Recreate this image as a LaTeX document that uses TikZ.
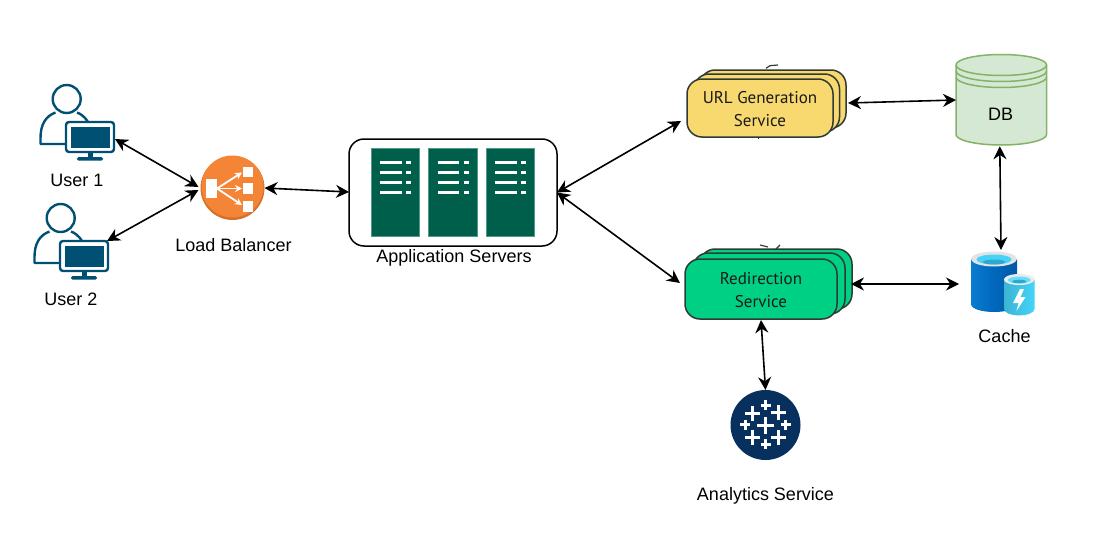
\documentclass[tikz,border=0pt]{standalone}
\usepackage{fontspec}
\setmainfont{Liberation Sans}
\newfontfamily\sketchfont{PT Sans}
\usetikzlibrary{arrows.meta,calc,shapes.geometric}
\definecolor{userblue}{HTML}{005073}
\definecolor{lborange}{HTML}{F58536}
\definecolor{lbdark}{HTML}{D5702A}
\definecolor{srvgreen}{HTML}{005F4B}
\definecolor{srvedge}{HTML}{4F9A88}
\definecolor{urlfill}{HTML}{F7D96F}
\definecolor{redirfill}{HTML}{00D084}
\definecolor{cardline}{HTML}{2F3A36}
\definecolor{dbfill}{HTML}{D5E8D4}
\definecolor{dbline}{HTML}{82B366}
\definecolor{tabblue}{HTML}{07305F}
\definecolor{cacheA}{HTML}{0A7BD0}
\definecolor{cacheB}{HTML}{0058A8}
\definecolor{cacheC}{HTML}{0068BC}
\definecolor{cacheD}{HTML}{45D4F8}
\definecolor{cacheE}{HTML}{2FA8D0}
\tikzset{
  x=1pt,y=-1pt,
  link/.style={line width=1.6pt,black,{Stealth[length=13pt,width=13pt]}-{Stealth[length=13pt,width=13pt]}},
  lbl/.style={font=\fontsize{18}{21}\selectfont,text=black,inner sep=0pt,anchor=center},
  card/.style={draw=cardline,line width=1.5pt,rounded corners=15pt},
  svctext/.style={font=\sketchfont\fontsize{17}{23}\selectfont,align=center,text=black!90,inner sep=0pt},
  hit/.style={rectangle,inner sep=0pt,outer sep=0pt},
  srv/.style={fill=srvgreen,draw=srvedge,line width=.6pt},
  srvline/.style={white,line width=2.2pt},
  usr/.style={draw=userblue,line width=2.4pt,line join=round},
}
\newcommand{\usericon}[2]{%
 \begin{scope}[shift={(#1,#2)}]
  \draw[usr,fill=white] (66.7,99) circle (14);
  \draw[usr] (66,144) -- (40.5,144) -- (40.5,138) .. controls (40.5,124) and (46,116) .. (55.5,112.5);
  \draw[usr] (77,112.5) .. controls (81,114) and (85,117) .. (88,122);
  \draw[usr,fill=white,rounded corners=3pt] (66,122) rectangle (114,152);
  \fill[userblue] (70.5,127) rectangle (109.5,148);
  \fill[userblue] (87.5,152) rectangle (93,157.5);
  \fill[userblue,rounded corners=1.5pt] (77,157) rectangle (103,160.5);
 \end{scope}}
\newcommand{\srvrack}[1]{%
 \begin{scope}[shift={(#1,0)}]
  \draw[srv] (371,148.5) rectangle (419.5,236.5);
  \foreach \yy in {162.5,172.5,182.5,192.5}{
   \draw[srvline] (380,\yy) -- (401.5,\yy);
   \draw[srvline] (406,\yy) -- (411,\yy);}
 \end{scope}}
\newcommand{\tabcross}[3]{%
  \draw[white,line width=3pt] (#1-#3,#2) -- (#1+#3,#2) (#1,#2-#3) -- (#1,#2+#3);}
\newcommand{\dbarc}[1]{%
  \draw[dbline,line width=1.5pt] (956,#1) .. controls (956,#1+5.8) and (976,#1+10.5) .. (1001.3,#1+10.5)
    .. controls (1026.3,#1+10.5) and (1046.6,#1+5.8) .. (1046.6,#1);}
\begin{document}
\begin{tikzpicture}
\useasboundingbox (0,0) rectangle (1102,538);
\fill[white] (0,0) rectangle (1102,538);

% users
\usericon{0}{0}
\usericon{-6}{119}
\node[hit,minimum width=49pt,minimum height=38pt] (user1) at (90.5,139) {};
\node[hit,minimum width=49pt,minimum height=38pt] (user2) at (84.5,258) {};
\node[lbl] (user1lbl) at (77,180) {User 1};
\node[lbl] (user2lbl) at (71,299) {User 2};

% load balancer
\fill[lbdark] (232.5,188) circle (32);
\fill[lborange] (232.5,186.5) circle (31);
\node[circle,minimum size=64pt,inner sep=0pt,outer sep=0pt] (lb) at (232.5,188) {};
\fill[white] (205.5,179) rectangle (217,198);
\fill[white] (243,166.5) rectangle (253,177);
\fill[white] (243,183) rectangle (253,193.5);
\fill[white] (243,201) rectangle (253,211.5);
\begin{scope}[white,line width=1.8pt,-{Stealth[length=7pt,width=7pt]}]
 \draw (217,188.5) -- (242,172.5);
 \draw (217,188.5) -- (242,188.5);
 \draw (217,188.5) -- (242,205);
\end{scope}
\node[lbl] (lblbl) at (233.5,245) {Load Balancer};

% application servers
\node[draw=black,line width=1.5pt,rounded corners=15pt,minimum width=208pt,minimum height=107pt,inner sep=0pt,outer sep=0pt] (app) at (453,192.5) {};
\srvrack{0}
\srvrack{57.5}
\srvrack{115}
\node[lbl] (applbl) at (454,257.5) {Application Servers};

% URL generation service
\draw[card,fill=urlfill] (700,70) rectangle (846,128);
\draw[card,fill=urlfill] (694,74) rectangle (839.5,132);
\node[card,fill=urlfill,minimum width=146pt,minimum height=58pt,outer sep=0pt,inner sep=0pt] (url) at (760,108) {};
\node[svctext] (urltxt) at (760,109) {URL Generation\\Service};
\draw[cardline,line width=1.2pt] (766,68.3) -- (770,65.7) -- (778,65);
\draw[cardline,line width=.6pt] (758,137) -- (758,139);

% redirection service
\draw[card,fill=redirfill] (700,249) rectangle (852,309);
\draw[card,fill=redirfill] (693,253) rectangle (845,314);
\node[card,fill=redirfill,minimum width=152pt,minimum height=60pt,outer sep=0pt,inner sep=0pt] (redir) at (761,289) {};
\node[svctext] (redirtxt) at (761,290) {Redirection\\Service};
\draw[cardline,line width=1.2pt] (760,245) -- (768,247) (776,249) -- (780,245);

% DB
\draw[dbline,line width=1.5pt,fill=dbfill] (956,65) .. controls (956,59.2) and (976,54.5) .. (1001.3,54.5)
  .. controls (1026.3,54.5) and (1046.6,59.2) .. (1046.6,65) -- (1046.6,134.5)
  .. controls (1046.6,140.3) and (1026.3,145) .. (1001.3,145)
  .. controls (976,145) and (956,140.3) .. (956,134.5) -- cycle;
\dbarc{65}
\dbarc{71}
\dbarc{77}
\node[hit,minimum width=90.6pt,minimum height=90.5pt] (db) at (1001.3,100) {};
\node[lbl,inner sep=0pt] (dbtxt) at (1000.5,114) {DB};

% cache
\path[left color=cacheA,right color=cacheB,middle color=cacheC] (971,259) -- (971,304)
  .. controls (971,309) and (982,312) .. (994,312) .. controls (1006,312) and (1017,309) .. (1017,304) -- (1017,259) -- cycle;
\fill[gray!22] (994,259) ellipse[x radius=23,y radius=7.5];
\fill[cacheD] (994,259.5) ellipse[x radius=17.5,y radius=5];
\fill[cacheE] (994,262) ellipse[x radius=11,y radius=2.5];
\path[left color=cacheD!85!black,right color=cacheD] (1004,279.5) -- (1004,309)
  .. controls (1004,313) and (1012,315.5) .. (1019,315.5) .. controls (1026,315.5) and (1034.5,313) .. (1034.5,309) -- (1034.5,279.5) -- cycle;
\fill[gray!15] (1019.2,279.5) ellipse[x radius=15.3,y radius=5.5];
\fill[cacheD!80!white] (1019.2,280) ellipse[x radius=11.5,y radius=3.5];
\fill[cacheE] (1019.2,281.5) ellipse[x radius=7,y radius=1.8];
\fill[white] (1020,289) -- (1013,303) -- (1018.5,303) -- (1016.5,311) -- (1025.5,297) -- (1020.5,297) -- (1024,289) -- cycle;
\node[hit,minimum width=64pt,minimum height=66pt] (cache) at (1002.5,283) {};
\node[lbl] (cachelbl) at (1004.5,336) {Cache};

% analytics
\node[circle,fill=tabblue,minimum size=70pt,inner sep=0pt,outer sep=0pt] (tab) at (765.5,425) {};
\tabcross{765.7}{425}{8.5}
\tabcross{752.7}{413.5}{7.5}
\tabcross{778.3}{412.5}{7.5}
\tabcross{752.7}{437}{7.5}
\tabcross{778.3}{437}{7.5}
\tabcross{765.7}{405}{5}
\tabcross{765.7}{444}{5}
\tabcross{745}{424.5}{5}
\tabcross{785.7}{424.5}{5}
\node[lbl] (tablbl) at (765.5,495.5) {Analytics Service};

% connectors
\draw[link] (user1.east) -- ($(lb.center)+(-34,-1)$);
\draw[link] ($(user2.east)+(-2,-17)$) -- ($(lb.center)+(-34,2)$);
\draw[link] (lb.east) -- ($(app.west)+(0,-0.5)$);
\draw[link] (app.east) -- ($(url.west)+(-6,13)$);
\draw[link] (app.east) -- ($(redir.west)+(-5,-6)$);
\draw[link] ($(url.east)+(15,-5)$) -- ($(db.west)+(0,0)$);
\draw[link] ($(redir.east)+(14,-5)$) -- ($(cache.west)+(-11.5,1)$);
\draw[link] ($(db.south)+(-1.5,1)$) -- ($(cache.north)+(-1.5,0)$);
\draw[link] ($(redir.south)+(0,1)$) -- (tab.north);
\end{tikzpicture}
\end{document}
